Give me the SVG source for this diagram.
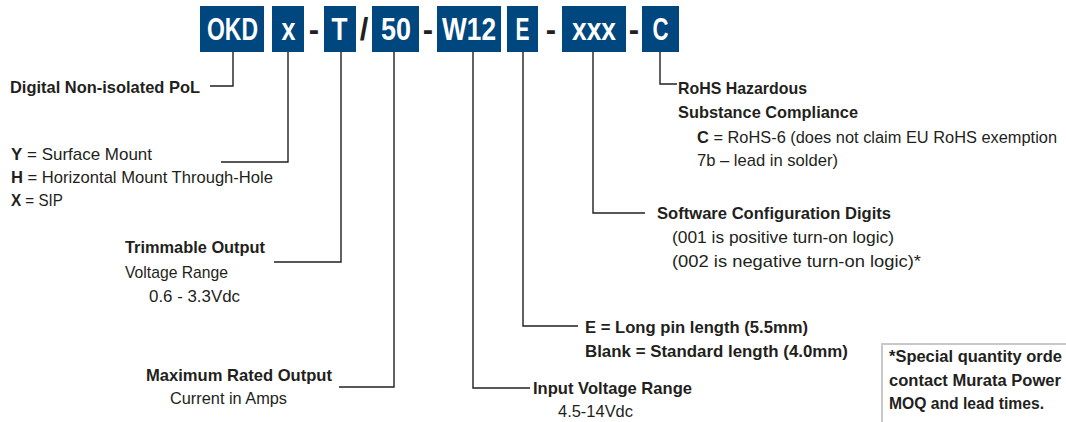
<svg xmlns="http://www.w3.org/2000/svg" width="1066" height="422" viewBox="0 0 1066 422">
<style>
.code{font-family:"Liberation Sans",Arial,sans-serif;font-weight:bold;font-size:31px;fill:#fff;text-anchor:middle}
.sep{font-family:"Liberation Sans",Arial,sans-serif;font-weight:bold;font-size:31px;fill:#231f20;text-anchor:middle}
.box{fill:#00467f}
.b{font-family:"Liberation Sans",Arial,sans-serif;font-weight:bold;font-size:17px;fill:#231f20}
.r{font-family:"Liberation Sans",Arial,sans-serif;font-weight:normal;font-size:17px;fill:#231f20}
.bt{font-weight:bold}
.ln{fill:none;stroke:#231f20;stroke-width:1.4}
.note{fill:#fff;stroke:#c8c8c8;stroke-width:2}
</style>
<rect width="1066" height="422" fill="#fff"/>
<g id="code-OKD"><rect class="box" x="200" y="6" width="64" height="46"/><text class="code" x="232.5" y="40" textLength="51" lengthAdjust="spacingAndGlyphs">OKD</text></g>
<g id="code-x"><rect class="box" x="272" y="6" width="32" height="46"/><text class="code" x="288.5" y="40" textLength="14" lengthAdjust="spacingAndGlyphs">x</text></g>
<g id="code-T"><rect class="box" x="324" y="6" width="32" height="46"/><text class="code" x="339.5" y="40" textLength="16" lengthAdjust="spacingAndGlyphs">T</text></g>
<g id="code-50"><rect class="box" x="372" y="6" width="47" height="46"/><text class="code" x="396" y="40" textLength="30" lengthAdjust="spacingAndGlyphs">50</text></g>
<g id="code-W12"><rect class="box" x="437" y="6" width="64" height="46"/><text class="code" x="469" y="40" textLength="54" lengthAdjust="spacingAndGlyphs">W12</text></g>
<g id="code-E"><rect class="box" x="507" y="6" width="31" height="46"/><text class="code" x="522.5" y="40" textLength="14" lengthAdjust="spacingAndGlyphs">E</text></g>
<g id="code-xxx"><rect class="box" x="562" y="6" width="64" height="46"/><text class="code" x="594" y="40" textLength="44" lengthAdjust="spacingAndGlyphs">xxx</text></g>
<g id="code-C"><rect class="box" x="642" y="6" width="37" height="46"/><text class="code" x="660.5" y="40" textLength="16" lengthAdjust="spacingAndGlyphs">C</text></g>
<g id="separators">
<text class="sep" x="314" y="40">-</text>
<text class="sep" x="364" y="40">/</text>
<text class="sep" x="428" y="40">-</text>
<text class="sep" x="551" y="40">-</text>
<text class="sep" x="634" y="40">-</text>
</g>
<g id="connectors">
<polyline class="ln" points="233,52 233,86 210,86"/>
<polyline class="ln" points="288,52 288,162 221,162"/>
<polyline class="ln" points="341,52 341,262 274,262"/>
<polyline class="ln" points="394,52 394,387 339,387"/>
<polyline class="ln" points="473,52 473,388 530,388"/>
<polyline class="ln" points="523,52 523,326 578,326"/>
<polyline class="ln" points="593,52 593,213 645,213"/>
<polyline class="ln" points="660,52 660,84 677,84"/>
</g>
<g id="label-digital"><text class="b" x="10" y="93" textLength="190" lengthAdjust="spacingAndGlyphs">Digital Non-isolated PoL</text></g>
<g id="label-mount">
<text class="r" x="11" y="160" textLength="141" lengthAdjust="spacingAndGlyphs"><tspan class="bt">Y</tspan> = Surface Mount</text>
<text class="r" x="11" y="183" textLength="262" lengthAdjust="spacingAndGlyphs"><tspan class="bt">H</tspan> = Horizontal Mount Through-Hole</text>
<text class="r" x="11" y="206" textLength="52" lengthAdjust="spacingAndGlyphs"><tspan class="bt">X</tspan> = SIP</text>
</g>
<g id="label-trim">
<text class="b" x="125" y="253" textLength="140" lengthAdjust="spacingAndGlyphs">Trimmable Output</text>
<text class="r" x="125" y="278" textLength="103" lengthAdjust="spacingAndGlyphs">Voltage Range</text>
<text class="r" x="149" y="302" textLength="91" lengthAdjust="spacingAndGlyphs">0.6 - 3.3Vdc</text>
</g>
<g id="label-current">
<text class="b" x="146" y="381" textLength="186" lengthAdjust="spacingAndGlyphs">Maximum Rated Output</text>
<text class="r" x="170" y="404" textLength="117" lengthAdjust="spacingAndGlyphs">Current in Amps</text>
</g>
<g id="label-input">
<text class="b" x="533" y="394" textLength="159" lengthAdjust="spacingAndGlyphs">Input Voltage Range</text>
<text class="r" x="558" y="417" textLength="75" lengthAdjust="spacingAndGlyphs">4.5-14Vdc</text>
</g>
<g id="label-pin">
<text class="b" x="585" y="333" textLength="223" lengthAdjust="spacingAndGlyphs">E = Long pin length (5.5mm)</text>
<text class="b" x="585" y="357" textLength="263" lengthAdjust="spacingAndGlyphs">Blank = Standard length (4.0mm)</text>
</g>
<g id="label-software">
<text class="b" x="657" y="219" textLength="234" lengthAdjust="spacingAndGlyphs">Software Configuration Digits</text>
<text class="r" x="672" y="243" textLength="222" lengthAdjust="spacingAndGlyphs">(001 is positive turn-on logic)</text>
<text class="r" x="672" y="267" textLength="249" lengthAdjust="spacingAndGlyphs">(002 is negative turn-on logic)*</text>
</g>
<g id="label-rohs">
<text class="b" x="678" y="94" textLength="129" lengthAdjust="spacingAndGlyphs">RoHS Hazardous</text>
<text class="b" x="678" y="118" textLength="180" lengthAdjust="spacingAndGlyphs">Substance Compliance</text>
<text class="r" x="697" y="143" style="font-size:16px" textLength="360" lengthAdjust="spacingAndGlyphs"><tspan class="bt">C</tspan> = RoHS-6 (does not claim EU RoHS exemption</text>
<text class="r" x="697" y="166" textLength="141" lengthAdjust="spacingAndGlyphs">7b – lead in solder)</text>
</g>
<g id="note">
<rect class="note" x="882" y="344" width="200" height="100"/>
<text class="b" x="889" y="362" style="font-size:16px" textLength="173" lengthAdjust="spacingAndGlyphs">*Special quantity orde</text>
<text class="b" x="889" y="386" style="font-size:16px" textLength="172" lengthAdjust="spacingAndGlyphs">contact Murata Power</text>
<text class="b" x="889" y="409" style="font-size:16px" textLength="155" lengthAdjust="spacingAndGlyphs">MOQ and lead times.</text>
</g>
</svg>
